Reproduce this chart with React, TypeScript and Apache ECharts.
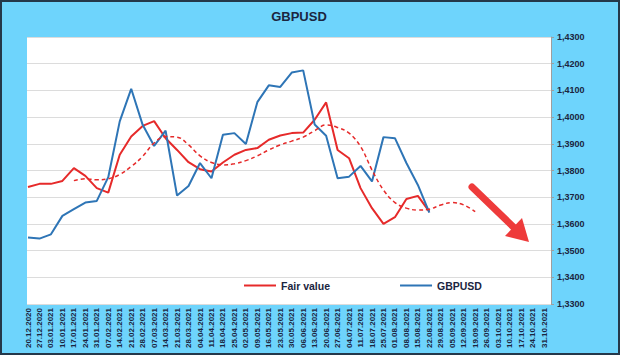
import React, { useEffect, useRef } from "react";
import * as echarts from "echarts";

const dates = [
  "20.12.2020", "27.12.2020", "03.01.2021", "10.01.2021", "17.01.2021", "24.01.2021",
  "31.01.2021", "07.02.2021", "14.02.2021", "21.02.2021", "28.02.2021", "07.03.2021",
  "14.03.2021", "21.03.2021", "28.03.2021", "04.04.2021", "11.04.2021", "18.04.2021",
  "25.04.2021", "02.05.2021", "09.05.2021", "16.05.2021", "23.05.2021", "30.05.2021",
  "06.06.2021", "13.06.2021", "20.06.2021", "27.06.2021", "04.07.2021", "11.07.2021",
  "18.07.2021", "25.07.2021", "01.08.2021", "08.08.2021", "15.08.2021", "22.08.2021",
  "29.08.2021", "05.09.2021", "12.09.2021", "19.09.2021", "26.09.2021", "03.10.2021",
  "10.10.2021", "17.10.2021", "24.10.2021", "31.10.2021",
];

const gbpusd = [
  1.3549, 1.3545, 1.3561, 1.363, 1.3655, 1.368, 1.3686, 1.3775, 1.3984, 1.4106,
  1.3971, 1.3892, 1.3949, 1.3706, 1.3742, 1.3828, 1.3771, 1.3934, 1.394, 1.3899,
  1.4056, 1.4119, 1.4113, 1.4167, 1.4175, 1.3972, 1.393, 1.3771, 1.3777, 1.3817,
  1.3759, 1.3925, 1.3921, 1.3828, 1.3746, 1.3642,
  null, null, null, null, null, null, null, null, null, null,
];

const fairValue = [
  1.3738, 1.375, 1.375, 1.3761, 1.3809, 1.378, 1.3734, 1.3717, 1.3859, 1.3927,
  1.3967, 1.3985, 1.3921, 1.3877, 1.3831, 1.3805, 1.3796, 1.383, 1.3859, 1.3877,
  1.3884, 1.3915, 1.3931, 1.394, 1.3942, 1.399, 1.4055, 1.3877, 1.3846, 1.3734,
  1.3659, 1.36, 1.3625, 1.3693, 1.3705, 1.3646,
  null, null, null, null, null, null, null, null, null, null,
];

const fairTrend = [
  null, null, null, null, 1.3762, 1.3769, 1.3765, 1.3769, 1.3785, 1.3815,
  1.3853, 1.3903, 1.3927, 1.3925, 1.3896, 1.3855, 1.383, 1.3821, 1.3825, 1.3837,
  1.3855, 1.3877, 1.3896, 1.391, 1.3925, 1.3949, 1.3971, 1.3961, 1.394, 1.389,
  1.3802, 1.3727, 1.368, 1.3659, 1.3652, 1.3655, 1.3671, 1.368, 1.3671, 1.3646,
  null, null, null, null, null, null,
];

const yMin = 1.33;
const yMax = 1.43;
const yStep = 0.01;

const FONT = "'Liberation Sans', Arial, sans-serif";
const TEXT = "#1b2540";
const RED = "#E62A2A";
const BLUE = "#2E75B6";

export default function App() {
  const ref = useRef<HTMLDivElement>(null);

  useEffect(() => {
    if (!ref.current) return;
    const chart = echarts.init(ref.current, null, { renderer: "svg" });
    const option: any = {
      animation: false,
      backgroundColor: "#6ED4FC",
      textStyle: { fontFamily: FONT },
      grid: [
        { left: 27, top: 37, width: 524, height: 267, show: true, backgroundColor: "#ffffff", borderWidth: 0 },
        { left: 28, top: 37, width: 516, height: 267 },
      ],
      xAxis: [
        { gridIndex: 0, type: "category", data: dates, show: false },
        {
          gridIndex: 1,
          type: "category",
          data: dates,
          boundaryGap: false,
          axisLine: { show: false },
          axisTick: { show: false },
          splitLine: { show: false },
          axisLabel: {
            interval: 0,
            rotate: 90,
            fontSize: 8,
            fontWeight: "bold",
            color: TEXT,
            margin: 4,
            fontFamily: FONT,
          },
        },
      ],
      yAxis: [
        {
          gridIndex: 0,
          type: "value",
          position: "right",
          min: yMin,
          max: yMax,
          interval: yStep,
          axisLine: { show: true, lineStyle: { color: "#9e9e9e", width: 1 } },
          axisTick: { show: true, length: 3, lineStyle: { color: "#9e9e9e" } },
          axisLabel: {
            formatter: (v: number) => v.toFixed(4).replace(".", ","),
            fontSize: 9,
            fontWeight: "bold",
            color: TEXT,
            margin: 6,
            fontFamily: FONT,
          },
          splitLine: { show: true, lineStyle: { color: "#dcdcdc", width: 1 } },
        },
        { gridIndex: 1, type: "value", min: yMin, max: yMax, interval: yStep, show: false, splitLine: { show: false } },
      ],
      legend: {
        data: ["Fair value", "GBPUSD"],
        left: 239,
        top: 275,
        icon: "rect",
        itemWidth: 32,
        itemHeight: 2,
        itemGap: 70,
        textStyle: { fontSize: 10.5, fontWeight: "bold", color: TEXT, fontFamily: FONT },
      },
      series: [
        {
          name: "Fair value",
          type: "line",
          xAxisIndex: 1,
          yAxisIndex: 1,
          data: fairValue,
          symbol: "none",
          lineStyle: { color: RED, width: 2 },
          itemStyle: { color: RED },
        },
        {
          name: "GBPUSD",
          type: "line",
          xAxisIndex: 1,
          yAxisIndex: 1,
          data: gbpusd,
          symbol: "none",
          lineStyle: { color: BLUE, width: 2 },
          itemStyle: { color: BLUE },
        },
        {
          name: "Fair value trend",
          type: "line",
          xAxisIndex: 1,
          yAxisIndex: 1,
          data: fairTrend,
          symbol: "none",
          smooth: 0.4,
          lineStyle: { color: RED, width: 1.5, type: [4, 3] },
          itemStyle: { color: RED },
        },
      ],
      graphic: [
        {
          type: "text",
          x: 299,
          y: 16,
          style: {
            text: "GBPUSD",
            textAlign: "center",
            textVerticalAlign: "middle",
            fontSize: 13,
            fontWeight: "bold",
            fontFamily: FONT,
            fill: TEXT,
          },
        },
        {
          type: "line",
          z: 100,
          shape: { x1: 472, y1: 187, x2: 516, y2: 229.5 },
          style: { stroke: "#EE3B3B", lineWidth: 7, lineCap: "round" },
        },
        {
          type: "polygon",
          z: 100,
          shape: { points: [[529, 242], [505, 236], [522, 218]] },
          style: { fill: "#EE3B3B" },
        },
        {
          type: "rect",
          z: 100,
          shape: { x: 1, y: 1, width: 618, height: 353 },
          style: { fill: "none", stroke: "#24384a", lineWidth: 2 },
        },
      ],
    };
    chart.setOption(option);
    return () => chart.dispose();
  }, []);

  return (
    <div
      ref={ref}
      style={{ position: "fixed", left: 0, top: 0, width: 620, height: 355 }}
    />
  );
}
